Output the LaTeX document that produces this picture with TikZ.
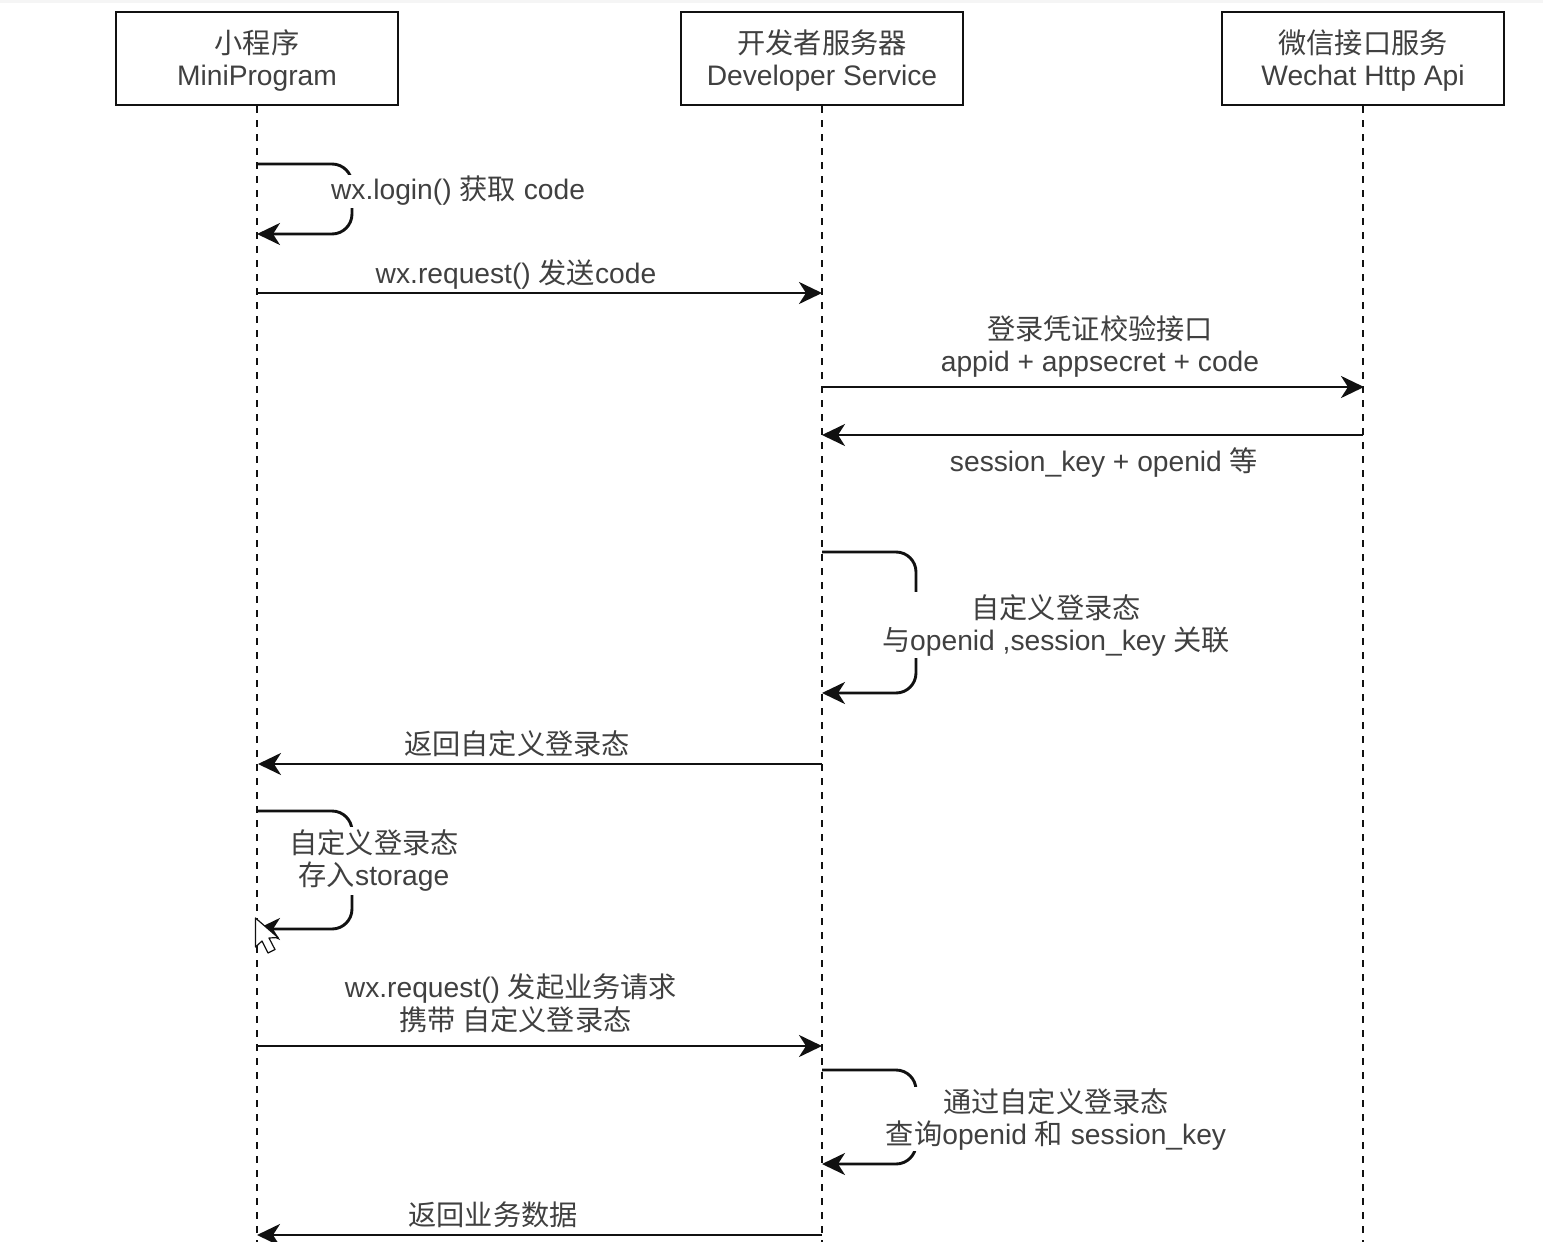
\documentclass[tikz,border=0pt]{standalone}
\usepackage{fontspec}
\setmainfont{Liberation Sans}
\newfontfamily\cjk{Noto Sans CJK SC}
\newcommand{\zh}[1]{{\cjk #1}}
\newcommand{\lowerstrut}{\rule{0pt}{28pt}}
\usetikzlibrary{arrows.meta}
\definecolor{txt}{HTML}{404040}
\definecolor{ink}{HTML}{111111}
\tikzset{
  actor/.style={draw=ink,line width=2.9pt,fill=white,minimum width=282pt,minimum height=93pt,inner sep=0pt,align=center,text=txt,font=\fontsize{28.2}{32}\selectfont},
  lifeline/.style={draw=ink,line width=2.6pt,dash pattern=on 7pt off 7pt},
  msg/.style={draw=ink,line width=2.9pt,-{Stealth[length=23pt,width=22pt,inset=7pt]}},
  selfmsg/.style={msg,rounded corners=20pt},
  lbl/.style={text=txt,font=\fontsize{28.2}{32}\selectfont,align=center,inner sep=0pt},
  looplbl/.style={lbl,fill=white,minimum height=#1}
}
\begin{document}
\begin{tikzpicture}[x=1pt,y=-1pt]
\useasboundingbox (0,0) rectangle (1543,1242);
\fill[white] (0,0) rectangle (1543,1242);
\fill[black!4] (0,0) rectangle (1543,3);

% actors
\node[actor] (mini) at (257,58.5) {\lowerstrut\zh{小程序}\\MiniProgram};
\node[actor] (dev) at (822,58.5) {\lowerstrut\zh{开发者服务器}\\Developer Service};
\node[actor] (api) at (1363,58.5) {\lowerstrut\zh{微信接口服务}\\Wechat Http Api};

% lifeline ends
\coordinate (miniEnd) at (257,1242);
\coordinate (devEnd) at (822,1242);
\coordinate (apiEnd) at (1363,1242);
\draw[lifeline] (mini.south) -- (miniEnd);
\draw[lifeline] (dev.south) -- (devEnd);
\draw[lifeline] (api.south) -- (apiEnd);

% row anchors
\coordinate (m1) at (257,164);  \coordinate (m2) at (257,234);
\coordinate (m3) at (257,293);  \coordinate (d3) at (822,293);
\coordinate (d4) at (822,387);  \coordinate (a4) at (1364,387);
\coordinate (a5) at (1363,435); \coordinate (d5) at (822,435);
\coordinate (d6) at (822,552);  \coordinate (d7) at (822,693);
\coordinate (d8) at (822,764);  \coordinate (m8) at (258,764);
\coordinate (m9) at (257,811);  \coordinate (m10) at (257,929);
\coordinate (m11) at (257,1046);\coordinate (d11) at (822,1046);
\coordinate (d12) at (822,1070);\coordinate (d13) at (822,1164);
\coordinate (d14) at (822,1235);\coordinate (m14) at (257,1235);

% messages
\draw[selfmsg] (m1) -- (352,164) -- (352,234) -- (m2);
\draw[msg] (m3) -- (d3);
\draw[msg] (d4) -- (a4);
\draw[msg] (a5) -- (d5);
\draw[selfmsg] (d6) -- (916,552) -- (916,693) -- (d7);
\draw[msg] (d8) -- (m8);
\draw[selfmsg] (m9) -- (352,811) -- (352,929) -- (m10);
\draw[msg] (m11) -- (d11);
\draw[selfmsg] (d12) -- (916,1070) -- (916,1164) -- (d13);
\draw[msg] (d14) -- (m14);

% labels
\node[looplbl=33pt] (l1) at (458,191) {wx.login() \zh{获取} code};
\node[lbl] (l2) at (516,275) {wx.request() \zh{发送}code};
\node[lbl] (l3) at (1100,346) {\zh{登录凭证校验接口}\\appid + appsecret + code};
\node[lbl] (l4) at (1104,463) {session\_key + openid \zh{等}};
\node[looplbl=66pt] (l5) at (1056,625) {\zh{自定义登录态}\\\zh{与}openid ,session\_key \zh{关联}};
\node[lbl] (l6) at (517,744) {\zh{返回自定义登录态}};
\node[looplbl=68pt] (l7) at (374,860.5) {\zh{自定义登录态}\\\zh{存入}storage};
\node[lbl] (l8) at (511,1003.5) {wx.request() \zh{发起业务请求}\\[1pt]\hspace*{9pt}\zh{携带 自定义登录态}};
\node[looplbl=64pt] (l9) at (1056,1119) {\zh{通过自定义登录态}\\\zh{查询}openid \zh{和} session\_key};
\node[lbl] (l10) at (493,1214.5) {\zh{返回业务数据}};

% mouse pointer
\draw[draw=ink,line width=1.2pt,fill=white,line join=round]
  (255.5,918) -- (255.5,947) -- (262,941) -- (268,953) -- (275,949.5) -- (269,938) -- (278,937.5) -- cycle;
\end{tikzpicture}
\end{document}
